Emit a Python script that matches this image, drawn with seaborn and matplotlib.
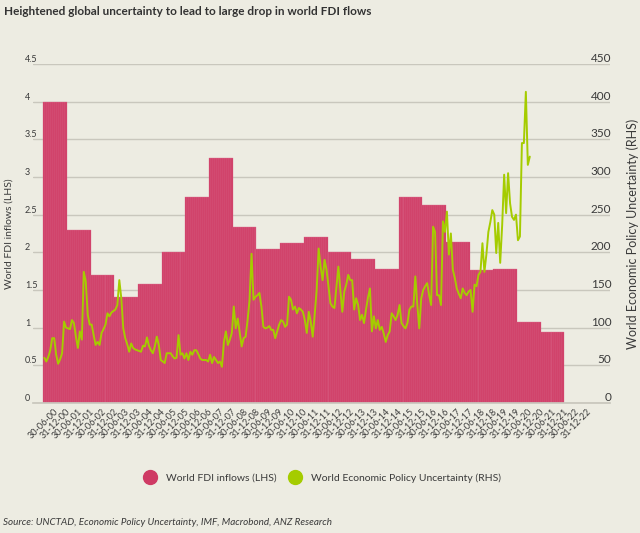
import numpy as np
import pandas as pd
import matplotlib
matplotlib.use("Agg")
import matplotlib.pyplot as plt
from matplotlib.lines import Line2D
import seaborn as sns

# ---------------- data ----------------
years = list(range(2000, 2022))
fdi_inflows = [4.00, 2.30, 1.70, 1.41, 1.58, 2.00, 2.74, 3.25, 2.34, 2.05, 2.12,
               2.20, 2.00, 1.91, 1.78, 2.73, 2.63, 2.13, 1.77, 1.78, 1.08, 0.94]

# World Economic Policy Uncertainty, monthly from Jan 2000
epu = [60, 55, 61, 70, 86, 86, 64, 52, 58, 66, 108, 100,
       99, 98, 110, 106, 88, 73, 95, 84, 174, 161, 117, 104,
       104, 90, 77, 81, 77, 93, 98, 104, 119, 115, 120, 122,
       124, 130, 163, 139, 99, 86, 78, 68, 79, 73, 71, 70,
       69, 68, 76, 75, 87, 76, 70, 66, 75, 88, 77, 57,
       55, 53, 66, 66, 66, 62, 59, 60, 90, 64, 66, 59,
       66, 57, 68, 64, 70, 70, 65, 59, 57, 57, 57, 55,
       64, 53, 61, 57, 53, 55, 48, 81, 95, 77, 84, 93,
       128, 99, 112, 93, 75, 86, 88, 110, 137, 198, 137, 141,
       143, 146, 128, 101, 99, 100, 102, 97, 97, 86, 95, 104,
       110, 108, 101, 104, 141, 137, 124, 128, 119, 126, 124, 121,
       110, 93, 121, 108, 88, 117, 150, 205, 181, 163, 190, 177,
       154, 132, 128, 126, 154, 181, 150, 121, 148, 157, 170, 163,
       163, 124, 139, 130, 110, 117, 106, 124, 140, 152, 95, 115,
       99, 110, 97, 101, 92, 81, 90, 95, 119, 115, 110, 117,
       130, 106, 102, 99, 106, 124, 128, 128, 168, 130, 99, 139,
       150, 155, 159, 143, 130, 234, 227, 143, 143, 130, 241, 227,
       254, 197, 225, 177, 166, 152, 145, 139, 152, 146, 143, 148,
       150, 121, 157, 155, 170, 174, 212, 174, 197, 227, 240, 256,
       250, 199, 239, 186, 236, 303, 252, 305, 265, 247, 243, 250,
       216, 221, 345, 345, 413, 316, 327]

tick_years = list(range(2000, 2023))
tick_labels = []
for y in tick_years:
    tick_labels += [f"30-06-{y % 100:02d}", f"31-12-{y % 100:02d}"]

title = "Heightened global uncertainty to lead to large drop in world FDI flows"
source = "Source: UNCTAD, Economic Policy Uncertainty, IMF, Macrobond, ANZ Research"

# ---------------- build tables ----------------
n_months = 12 * len(tick_years)
fdi_monthly = np.full(n_months, np.nan)
fdi_monthly[:12 * len(years)] = np.repeat(fdi_inflows, 12)
df_bar = pd.DataFrame({"month": np.arange(n_months), "fdi": fdi_monthly})
df_line = pd.DataFrame({"month": np.arange(len(epu)), "epu": epu})

# ---------------- style ----------------
bg = "#EDECE2"
pink = "#CF3A64"
green = "#A5CC00"
grid_c = "#C9C7BD"
txt = "#3A3A3A"

sns.set_theme(style="white")
plt.rcParams["font.family"] = ["Lato", "DejaVu Sans"]

fig = plt.figure(figsize=(6.4, 5.33), dpi=100, facecolor=bg)
ax = fig.add_axes([0.052, 0.244, 0.901, 0.636], facecolor=bg)

sns.barplot(data=df_bar, x="month", y="fdi", native_scale=True, width=1.0,
            color=pink, edgecolor="#DC7191", linewidth=0.25, saturation=1,
            errorbar=None, ax=ax, zorder=2)

ax.set_ylim(0, 4.5)
ax.set_yticks(np.arange(0, 4.51, 0.5))
ax.set_yticklabels(["0", "0.5", "1", "1.5", "2", "2.5", "3", "3.5", "4", "4.5"])
ax.grid(axis="y", color=grid_c, linewidth=1.0, zorder=0)
ax.set_axisbelow(True)
ax.set_xlim(-5.6, 286.6)

tick_pos = []
for i, y in enumerate(tick_years):
    tick_pos += [12 * i + 5, 12 * i + 11]
ax.set_xticks(tick_pos)
ax.set_xticklabels(tick_labels, rotation=45, ha="right", rotation_mode="anchor",
                   fontsize=6.5, color=txt)
ax.tick_params(axis="x", length=0, pad=3)
ax.tick_params(axis="y", length=0, pad=6, labelsize=6.5, labelcolor=txt)
for lab in ax.get_yticklabels():
    lab.set_horizontalalignment("left")
    lab.set_verticalalignment("bottom")
for s in ["top", "right", "left"]:
    ax.spines[s].set_visible(False)
ax.spines["bottom"].set_color(grid_c)
ax.set_xlabel("")
ax.set_ylabel("World FDI inflows (LHS)", fontsize=7.5, color=txt)
ax.yaxis.set_label_coords(-0.034, 0.5)

ax2 = ax.twinx()
sns.lineplot(data=df_line, x="month", y="epu", color=green, linewidth=1.4, ax=ax2)
ax2.set_ylim(0, 450)
ax2.set_yticks(np.arange(0, 451, 50))
ax2.tick_params(axis="y", length=0, pad=1, labelsize=8.5, labelcolor=txt)
for lab in ax2.get_yticklabels():
    lab.set_horizontalalignment("right")
    lab.set_verticalalignment("bottom")
for s in ax2.spines.values():
    s.set_visible(False)
ax2.set_ylabel("World Economic Policy Uncertainty (RHS)", fontsize=9, color=txt)
ax2.yaxis.set_label_coords(1.028, 0.5)
ax2.set_xlabel("")

fig.text(0.006, 0.978, title, fontsize=8.5, fontweight="bold", color="#333333",
         ha="left", va="center")
fig.text(0.005, 0.019, source, fontsize=7.1, style="italic", color=txt,
         ha="left", va="center")

handles = [Line2D([], [], marker="o", linestyle="", markersize=10,
                  markerfacecolor=pink, markeredgecolor=pink),
           Line2D([], [], marker="o", linestyle="", markersize=10,
                  markerfacecolor=green, markeredgecolor=green)]
fig.legend(handles, ["World FDI inflows (LHS)", "World Economic Policy Uncertainty (RHS)"],
           loc="center", bbox_to_anchor=(0.5, 0.103), ncol=2, frameon=False,
           fontsize=7.5, handletextpad=0.5, columnspacing=0.8, labelcolor=txt)

fig.savefig("out.png", dpi=100, facecolor=bg)
